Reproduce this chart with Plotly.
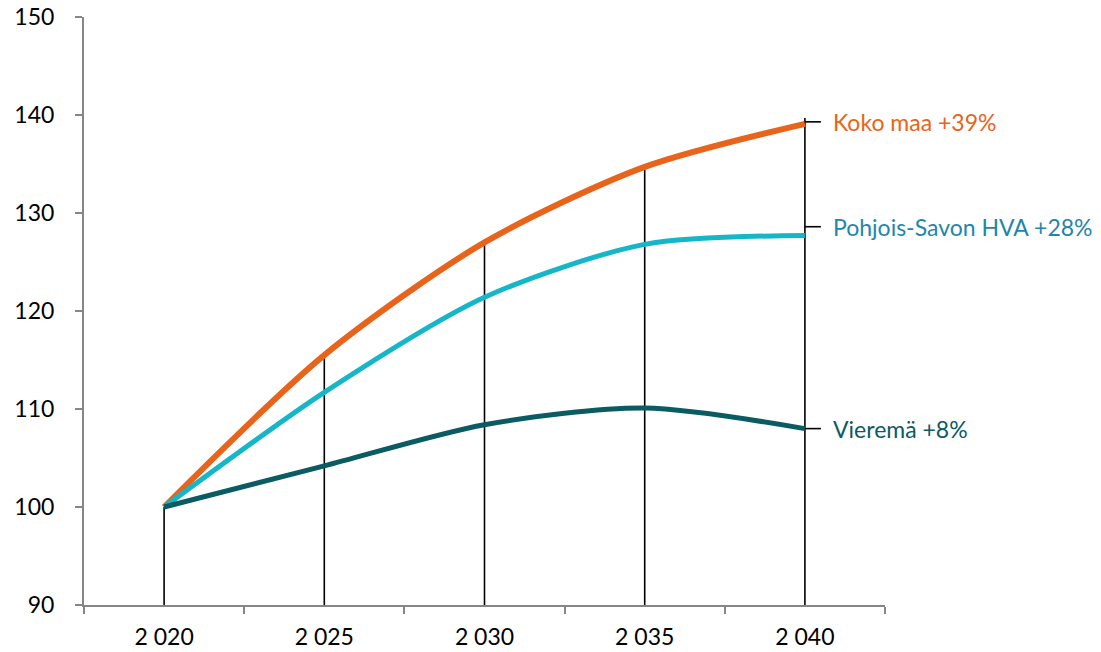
import plotly.graph_objects as go

years = ["2 020", "2 025", "2 030", "2 035", "2 040"]
koko_maa = [100, 115.5, 127.0, 134.7, 139.1]
pohjois_savo = [100, 111.7, 121.4, 126.8, 127.7]
vierema = [100, 104.2, 108.4, 110.1, 108.0]

labels = ["Koko maa +39%", "Pohjois-Savon HVA +28%", "Vieremä +8%"]
label_y = [139.3, 128.6, 108.0]
line_colors = ["#E8641B", "#16B6C9", "#0B5B63"]
text_colors = ["#E8641B", "#1E86AD", "#0B5B63"]
widths = [6, 5, 5]

FONT = "Lato"
xi = list(range(len(years)))

fig = go.Figure()

# drop lines from highest series to axis
for i, v in enumerate(koko_maa):
    top = v + (0.6 if i == len(years) - 1 else 0)
    fig.add_trace(go.Scatter(x=[xi[i], xi[i]], y=[90, top], mode="lines",
                             line=dict(color="black", width=1.6),
                             hoverinfo="skip", showlegend=False))

# leader lines
for ly in label_y:
    fig.add_trace(go.Scatter(x=[xi[-1], xi[-1] + 0.1], y=[ly, ly], mode="lines",
                             line=dict(color="black", width=1.6),
                             hoverinfo="skip", showlegend=False))

for name, vals, col, w in zip(labels, [koko_maa, pohjois_savo, vierema], line_colors, widths):
    fig.add_trace(go.Scatter(x=xi, y=vals, mode="lines", name=name,
                             line=dict(color=col, width=w, shape="spline", smoothing=0.8),
                             showlegend=False))

for lab, ly, tc in zip(labels, label_y, text_colors):
    fig.add_annotation(x=xi[-1] + 0.16, y=ly, text=lab, showarrow=False,
                       xanchor="left", yanchor="middle",
                       font=dict(family=FONT, size=23, color=tc))

fig.update_layout(
    width=1101, height=652,
    margin=dict(l=84, r=216, t=17, b=47),
    plot_bgcolor="white", paper_bgcolor="white",
    font=dict(family=FONT, size=23, color="black"),
)
fig.update_xaxes(range=[-0.5, 4.5], tickvals=xi, ticktext=years, ticks="",
                 showline=True, linecolor="#868686", linewidth=2,
                 showgrid=False, zeroline=False, automargin=False,
                 ticklabeloverflow="allow",
                 minor=dict(tickvals=[-0.5, 0.5, 1.5, 2.5, 3.5, 4.5], ticks="outside",
                            ticklen=7, tickcolor="#868686", tickwidth=2, showgrid=False),
                 tickfont=dict(family=FONT, size=23), ticklabelstandoff=10)
fig.update_yaxes(range=[90, 150], dtick=10, ticks="outside", ticklen=7,
                 tickcolor="#868686", tickwidth=2,
                 showline=True, linecolor="#868686", linewidth=2,
                 showgrid=False, zeroline=False, automargin=False,
                 ticklabeloverflow="allow",
                 tickfont=dict(family=FONT, size=23), ticklabelstandoff=16)

fig.write_html("out.html", config={"displayModeBar": False},
               post_script="document.body.style.margin='0';document.body.style.overflow='hidden';")
